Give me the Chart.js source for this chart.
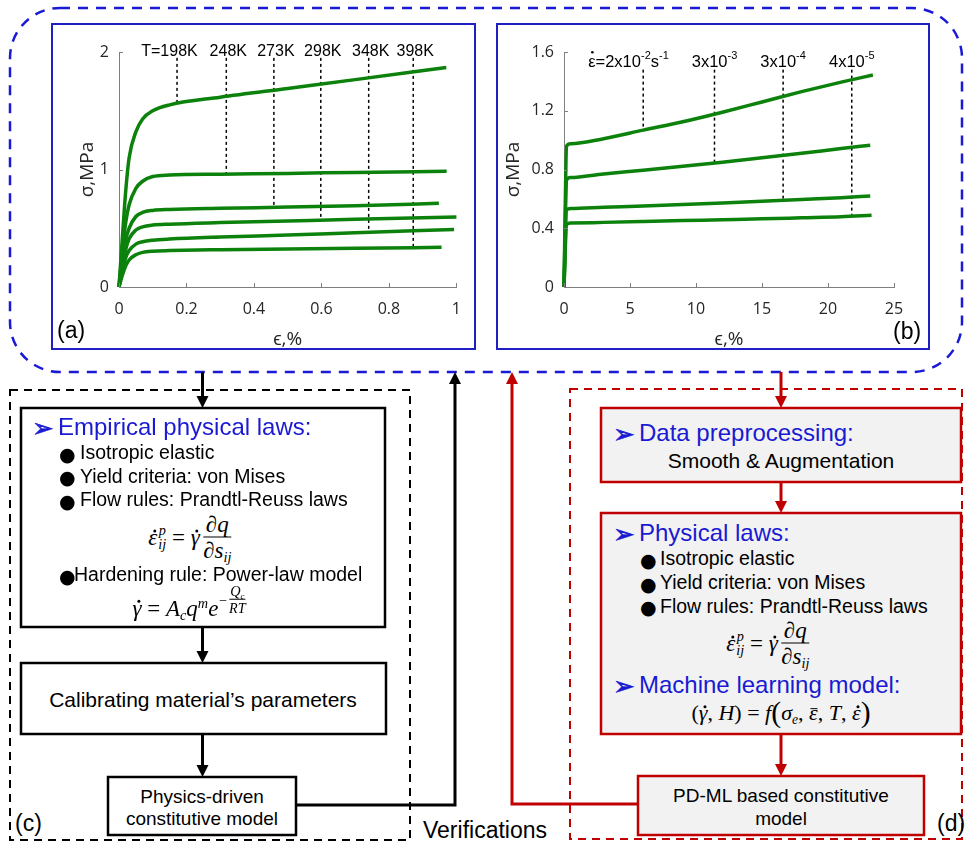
<!DOCTYPE html>
<html>
<head>
<meta charset="utf-8">
<script src="https://cdn.jsdelivr.net/npm/chart.js@4.4.1/dist/chart.umd.min.js"></script>
<style>
  body { margin: 0; background: #fff; }
  #page { position: relative; width: 968px; height: 845px; overflow: hidden; font-family: "Liberation Sans", Arial, sans-serif; color: #000; }
  svg { position: absolute; left: 0; top: 0; }
  .panel { position: absolute; top: 23px; height: 327px; border: 2px solid #1f1fc4; box-sizing: border-box; background: #fff; }
  .panel canvas { position: absolute; left: 0; top: 0; }
  .t { position: absolute; white-space: nowrap; transform: translateY(-50%); line-height: 1; }
  .c { position: absolute; white-space: nowrap; transform: translate(-50%, -50%); line-height: 1; text-align: center; }
  .head { color: #1a1ad2; font-size: 24px; }
  .arr { color: #1a1ad2; font-family: "DejaVu Sans", sans-serif; font-size: 26px; -webkit-text-stroke: 0.6px #1a1ad2; }
  .item { font-size: 19.5px; }
  .bul { font-family: "DejaVu Sans", sans-serif; font-size: 19px; }
  .lab { font-size: 23px; }
  .eq { font-family: "Liberation Serif", serif; font-size: 23px; font-style: italic; display: flex; align-items: center; }
  .eq .up { font-style: normal; }
  .ss { display: inline-flex; flex-direction: column; font-size: 0.62em; line-height: 0.95; margin-left: 1px; }
  .frac { display: inline-flex; flex-direction: column; align-items: center; margin-left: 3px; }
  .frac .num { border-bottom: 1.5px solid #000; padding: 0 3px 1px; }
  .frac .den { padding-top: 1px; }
  .sub { font-size: 0.62em; position: relative; top: 0.3em; }
  .sup { font-size: 0.62em; position: relative; top: -0.55em; }
  .big { font-style: normal; font-size: 1.35em; font-weight: 300; }
  .dot, .bar { position: relative; display: inline-block; line-height: 1; }
  .dot::after { content: ''; position: absolute; left: 52%; top: 0.16em; width: 3px; height: 3px; border-radius: 50%; background: #000; }
  .bar::after { content: ''; position: absolute; left: 18%; right: 0; top: 0.26em; border-top: 1.3px solid #000; }
</style>
</head>
<body>
<div id="page">
<svg width="968" height="845">
  <rect x="10" y="8" width="952" height="364" rx="50" fill="none" stroke="#1a1ad6" stroke-width="2.5" stroke-dasharray="10 8"/>
  <rect x="10" y="390" width="400" height="450" fill="none" stroke="#000" stroke-width="2" stroke-dasharray="8 6"/>
  <rect x="570" y="389" width="392" height="450" fill="none" stroke="#c00000" stroke-width="2" stroke-dasharray="8 6"/>

  <g stroke="#000" stroke-width="3" fill="none">
    <path d="M202.5 372 V398"/>
    <path d="M202.5 627 V653"/>
    <path d="M202.5 734 V767"/>
    <path d="M296 805 H455 V382"/>
  </g>
  <g fill="#000">
    <polygon points="196.5,396 208.5,396 202.5,408"/>
    <polygon points="196.5,651 208.5,651 202.5,663"/>
    <polygon points="196.5,765 208.5,765 202.5,777"/>
    <polygon points="449,384 461,384 455,372"/>
  </g>
  <g stroke="#c00000" stroke-width="3" fill="none">
    <path d="M781 372 V398"/>
    <path d="M781 482 V503"/>
    <path d="M781 734 V766"/>
    <path d="M638 804 H512 V382"/>
  </g>
  <g fill="#c00000">
    <polygon points="775,396 787,396 781,408"/>
    <polygon points="775,501 787,501 781,513"/>
    <polygon points="775,764 787,764 781,776"/>
    <polygon points="506,384 518,384 512,372"/>
  </g>

  <rect x="21" y="408" width="364" height="219" fill="#fff" stroke="#000" stroke-width="2.5"/>
  <rect x="21" y="663" width="365" height="71" fill="#fff" stroke="#000" stroke-width="2.5"/>
  <rect x="108" y="777" width="188" height="58" fill="#fff" stroke="#000" stroke-width="2.5"/>
  <rect x="601" y="408" width="360" height="74" fill="#f2f2f2" stroke="#c00000" stroke-width="2.5"/>
  <rect x="601" y="513" width="360" height="221" fill="#f2f2f2" stroke="#c00000" stroke-width="2.5"/>
  <rect x="638" y="776" width="286" height="59" fill="#f2f2f2" stroke="#c00000" stroke-width="2.5"/>
</svg>

<div class="panel" style="left:51px;width:425px"><canvas id="chartA" width="421" height="323"></canvas></div>
<div class="panel" style="left:496px;width:434px"><canvas id="chartB" width="430" height="323"></canvas></div>
<div class="t lab" style="left:57px;top:330px">(a)</div>
<div class="t lab" style="left:893px;top:331px">(b)</div>

<!-- (c) physics-driven branch -->
<div class="t arr" style="left:32px;top:428px">➢</div>
<div class="t head" style="left:58px;top:427px">Empirical physical laws:</div>
<div class="t bul" style="left:59px;top:454px">●</div>
<div class="t item" style="left:80px;top:453px">Isotropic elastic</div>
<div class="t bul" style="left:59px;top:477px">●</div>
<div class="t item" style="left:80px;top:477px">Yield criteria: von Mises</div>
<div class="t bul" style="left:59px;top:501px">●</div>
<div class="t item" style="left:80px;top:500px">Flow rules: Prandtl-Reuss laws</div>
<div class="c eq" style="left:190px;top:537px">
  <span class="dot">ε</span><span class="ss"><span>p</span><span>ij</span></span>&nbsp;<span class="up">=</span>&nbsp;<span class="dot">γ</span>
  <span class="frac"><span class="num">∂q</span><span class="den">∂s<span class="sub">ij</span></span></span>
</div>
<div class="t bul" style="left:59px;top:576px">●</div>
<div class="t item" style="left:74px;top:575px">Hardening rule: Power-law model</div>
<div class="c eq" style="left:189px;top:608px">
  <span class="dot">γ</span>&nbsp;<span class="up">=</span>&nbsp;<span>A<span class="sub">c</span>q<span class="sup">m</span>e</span>
  <span class="sup" style="font-size:0.62em;display:inline-flex;align-items:center;top:-0.6em">−<span class="frac" style="margin-left:1px"><span class="num" style="padding:0 1px;border-bottom-width:1px">Q<span class="sub">c</span></span><span class="den">RT</span></span></span>
</div>
<div class="c" style="left:203px;top:699px;font-size:21px">Calibrating material’s parameters</div>
<div class="c" style="left:202px;top:796px;font-size:19px">Physics-driven</div>
<div class="c" style="left:202px;top:818px;font-size:19px">constitutive model</div>
<div class="t lab" style="left:15px;top:823px">(c)</div>
<div class="t lab" style="left:423px;top:830px">Verifications</div>

<!-- (d) PD-ML branch -->
<div class="t arr" style="left:613px;top:434px">➢</div>
<div class="t head" style="left:639px;top:433px">Data preprocessing:</div>
<div class="c" style="left:781px;top:460px;font-size:21px">Smooth &amp; Augmentation</div>
<div class="t arr" style="left:613px;top:534px">➢</div>
<div class="t head" style="left:639px;top:533px">Physical laws:</div>
<div class="t bul" style="left:640px;top:560px">●</div>
<div class="t item" style="left:660px;top:559px">Isotropic elastic</div>
<div class="t bul" style="left:640px;top:584px">●</div>
<div class="t item" style="left:660px;top:583px">Yield criteria: von Mises</div>
<div class="t bul" style="left:640px;top:607px">●</div>
<div class="t item" style="left:660px;top:607px">Flow rules: Prandtl-Reuss laws</div>
<div class="c eq" style="left:768px;top:643px">
  <span class="dot">ε</span><span class="ss"><span>p</span><span>ij</span></span>&nbsp;<span class="up">=</span>&nbsp;<span class="dot">γ</span>
  <span class="frac"><span class="num">∂q</span><span class="den">∂s<span class="sub">ij</span></span></span>
</div>
<div class="t arr" style="left:613px;top:686px">➢</div>
<div class="t head" style="left:639px;top:685px">Machine learning model:</div>
<div class="c eq" style="left:781px;top:713px;font-size:22px">
  <span class="up">(</span><span class="dot">γ</span><span class="up">,&nbsp;</span><span>H</span><span class="up">)</span>&nbsp;<span class="up">=</span>&nbsp;<span>f</span><span class="big">(</span><span>σ<span class="sub">e</span></span><span class="up">,&nbsp;</span><span class="bar">ε</span><span class="up">,&nbsp;</span><span>T</span><span class="up">,&nbsp;</span><span class="dot">ε</span><span class="big">)</span>
</div>
<div class="c" style="left:781px;top:795px;font-size:19px">PD-ML based constitutive</div>
<div class="c" style="left:781px;top:818px;font-size:19px">model</div>
<div class="t lab" style="left:937px;top:823px">(d)</div>
</div>

<script>
// (a) stress-strain curves at different temperatures
const temps = ['198K', '248K', '273K', '298K', '348K', '398K'];
const strainA = [0, 0.01, 0.02, 0.03, 0.05, 0.07, 0.1, 0.15, 0.3, 0.5, 0.7];
const strainEndA = [0.97, 0.971, 0.948, 1.0, 0.993, 0.956];
const stress198 = [0, 0.42, 0.82, 1.1, 1.32, 1.43, 1.5, 1.55, 1.615, 1.69, 1.765, 1.868];
const stress248 = [0, 0.3, 0.55, 0.7, 0.84, 0.9, 0.94, 0.953, 0.96, 0.967, 0.975, 0.985];
const stress273 = [0, 0.22, 0.4, 0.5, 0.6, 0.635, 0.652, 0.66, 0.67, 0.68, 0.692, 0.712];
const stress298 = [0, 0.18, 0.32, 0.41, 0.485, 0.512, 0.527, 0.535, 0.548, 0.562, 0.576, 0.595];
const stress348 = [0, 0.14, 0.25, 0.31, 0.365, 0.385, 0.398, 0.408, 0.425, 0.442, 0.462, 0.49];
const stress398 = [0, 0.1, 0.18, 0.23, 0.275, 0.295, 0.305, 0.31, 0.317, 0.323, 0.329, 0.338];
const stressA = [stress198, stress248, stress273, stress298, stress348, stress398];
const markStrainA = [0.172, 0.318, 0.459, 0.598, 0.74, 0.872];
const markStressA = [1.565, 0.962, 0.678, 0.57, 0.468, 0.336];
const markTopA = 1.95;
const labelLevelA = 2.0;
const xTicksA = [0, 0.2, 0.4, 0.6, 0.8, 1];
const yTicksA = [0, 1, 2];

// (b) stress-strain curves at different strain rates
const rateBase = ['2x10', '3x10', '3x10', '4x10'];
const rateExp = ['-2', '-3', '-4', '-5'];
const strainB = [0, 0.2, 0.5, 3, 6, 9, 12, 15, 18, 21];
const strainEndB = [23.4, 23.2, 23.2, 23.3];
const stressRate1 = [0, 0.96, 0.975, 1.01, 1.068, 1.125, 1.19, 1.26, 1.33, 1.395, 1.443];
const stressRate2 = [0, 0.73, 0.745, 0.77, 0.795, 0.822, 0.85, 0.88, 0.91, 0.943, 0.965];
const stressRate3 = [0, 0.525, 0.535, 0.543, 0.552, 0.562, 0.572, 0.583, 0.596, 0.608, 0.62];
const stressRate4 = [0, 0.425, 0.435, 0.44, 0.446, 0.452, 0.458, 0.464, 0.471, 0.478, 0.488];
const stressB = [stressRate1, stressRate2, stressRate3, stressRate4];
const markStrainB = [6.0, 11.4, 16.6, 21.8];
const markStressB = [1.068, 0.844, 0.59, 0.48];
const markTopB = 1.48;
const labelLevelB = 1.53;
const xTicksB = [0, 5, 10, 15, 20, 25];
const yTicksB = [0, 0.4, 0.8, 1.2, 1.6];

const green = 'rgb(12,130,12)';
const textFont = '"Liberation Sans", Arial, sans-serif';
Chart.defaults.font.family = '"Open Sans", sans-serif';
Chart.defaults.font.size = 16;
Chart.defaults.color = '#262626';

function curveSets(xs, ends, ys) {
    return ys.map((vals, k) => ({
        data: xs.concat([ends[k]]).map((x, i) => ({ x: x, y: vals[i] })),
        borderColor: green,
        borderWidth: 3.5,
        cubicInterpolationMode: 'monotone',
        pointRadius: 0,
        fill: false,
        clip: 4
    }));
}

function markerSets(xs, bottoms, top) {
    return xs.map((x, i) => ({
        data: [{ x: x, y: top }, { x: x, y: bottoms[i] }],
        borderColor: '#000',
        borderWidth: 1.5,
        borderDash: [3, 3],
        pointRadius: 0,
        fill: false
    }));
}

// MATLAB style ticks pointing into the plot
const inwardTicks = {
    id: 'inwardTicks',
    afterDraw(chart) {
        const { ctx, chartArea, scales: { x, y } } = chart;
        ctx.save();
        ctx.strokeStyle = '#7f7f7f';
        ctx.lineWidth = 1;
        ctx.beginPath();
        x.ticks.forEach(t => {
            const px = Math.round(x.getPixelForValue(t.value)) + 0.5;
            ctx.moveTo(px, chartArea.bottom);
            ctx.lineTo(px, chartArea.bottom - 4);
        });
        y.ticks.forEach(t => {
            const py = Math.round(y.getPixelForValue(t.value)) + 0.5;
            ctx.moveTo(chartArea.left, py);
            ctx.lineTo(chartArea.left + 4, py);
        });
        ctx.stroke();
        ctx.restore();
    }
};

const tempLabels = {
    id: 'tempLabels',
    afterDatasetsDraw(chart) {
        const { ctx, scales: { x, y } } = chart;
        const py = y.getPixelForValue(labelLevelA);
        ctx.save();
        ctx.font = '16px ' + textFont;
        ctx.fillStyle = '#000';
        ctx.textBaseline = 'middle';
        temps.forEach((t, i) => {
            const cx = x.getPixelForValue(markStrainA[i]) + 2;
            ctx.textAlign = 'center';
            ctx.fillText(t, cx, py);
            if (i === 0) {
                ctx.textAlign = 'right';
                ctx.fillText('T=', cx - ctx.measureText(t).width / 2, py);
            }
        });
        ctx.restore();
    }
};

// text runs: [text, isSuperscript]
function runWidth(ctx, parts) {
    let w = 0;
    parts.forEach(([s, sup]) => {
        ctx.font = (sup ? '11px ' : '16.5px ') + textFont;
        w += ctx.measureText(s).width;
    });
    return w;
}
function drawRuns(ctx, parts, left, py) {
    let px = left;
    parts.forEach(([s, sup]) => {
        ctx.font = (sup ? '11px ' : '16.5px ') + textFont;
        ctx.fillText(s, px, sup ? py - 6 : py);
        px += ctx.measureText(s).width;
    });
}

const rateLabels = {
    id: 'rateLabels',
    afterDatasetsDraw(chart) {
        const { ctx, scales: { x, y } } = chart;
        const py = y.getPixelForValue(labelLevelB);
        ctx.save();
        ctx.fillStyle = '#000';
        ctx.textBaseline = 'middle';
        ctx.textAlign = 'left';
        rateBase.forEach((b, i) => {
            const lx = x.getPixelForValue(markStrainB[i]);
            if (i === 0) {
                const parts = [['ε', false], ['=' + b, false], [rateExp[i], true], ['s', false], ['-1', true]];
                const left = lx - 55;
                drawRuns(ctx, parts, left, py);
                ctx.font = '16.5px ' + textFont;
                const ew = ctx.measureText('ε').width;
                ctx.beginPath();
                ctx.arc(left + ew / 2 + 0.5, py - 10, 1.3, 0, Math.PI * 2);
                ctx.fill();
            } else {
                const parts = [[b, false], [rateExp[i], true]];
                drawRuns(ctx, parts, lx - runWidth(ctx, parts) / 2, py);
            }
        });
        ctx.restore();
    }
};

function chartOptions(cfg) {
    return {
        responsive: false,
        animation: false,
        layout: { padding: cfg.padding },
        plugins: { legend: { display: false }, tooltip: { enabled: false } },
        scales: {
            x: {
                type: 'linear',
                min: cfg.xTicks[0],
                max: cfg.xTicks[cfg.xTicks.length - 1],
                afterBuildTicks: s => { s.ticks = cfg.xTicks.map(v => ({ value: v })); },
                afterFit: s => { s.height = 61; },
                grid: { drawOnChartArea: false, drawTicks: false },
                border: { color: '#7f7f7f', width: 1 },
                ticks: { padding: 13, callback: v => String(v) },
                title: { display: true, text: 'ϵ,%', font: { size: 19 }, padding: { top: 0, bottom: -3 } }
            },
            y: {
                min: cfg.yTicks[0],
                max: cfg.yTicks[cfg.yTicks.length - 1],
                afterBuildTicks: s => { s.ticks = cfg.yTicks.map(v => ({ value: v })); },
                afterFit: s => { s.width = 66; },
                grid: { drawOnChartArea: false, drawTicks: false },
                border: { color: '#7f7f7f', width: 1 },
                ticks: { padding: 10, callback: v => String(v) },
                title: { display: true, text: 'σ,MPa', font: { size: 19 }, padding: { top: cfg.yTitlePad, bottom: 0 } }
            }
        }
    };
}

new Chart(document.getElementById('chartA').getContext('2d'), {
    type: 'line',
    data: { datasets: curveSets(strainA, strainEndA, stressA).concat(markerSets(markStrainA, markStressA, markTopA)) },
    options: chartOptions({ xTicks: xTicksA, yTicks: yTicksA, yTitlePad: 23, padding: { top: 27, right: 13, left: 0, bottom: 0 } }),
    plugins: [inwardTicks, tempLabels]
});

new Chart(document.getElementById('chartB').getContext('2d'), {
    type: 'line',
    data: { datasets: curveSets(strainB, strainEndB, stressB).concat(markerSets(markStrainB, markStressB, markTopB)) },
    options: chartOptions({ xTicks: xTicksB, yTicks: yTicksB, yTitlePad: 4, padding: { top: 27, right: 34, left: 0, bottom: 0 } }),
    plugins: [inwardTicks, rateLabels]
});
</script>
</body>
</html>
